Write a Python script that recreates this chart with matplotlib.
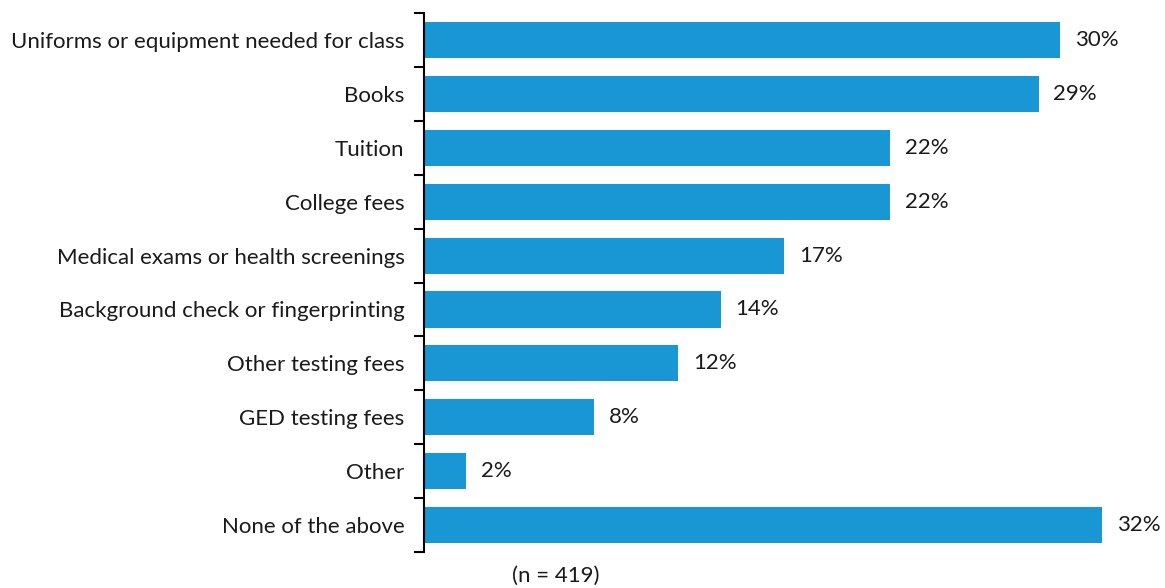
import numpy as np
import matplotlib.pyplot as plt

plt.rcParams['font.family'] = ['Lato', 'DejaVu Sans']

categories = [
    "Uniforms or equipment needed for class",
    "Books",
    "Tuition",
    "College fees",
    "Medical exams or health screenings",
    "Background check or fingerprinting",
    "Other testing fees",
    "GED testing fees",
    "Other",
    "None of the above",
]
values = [30, 29, 22, 22, 17, 14, 12, 8, 2, 32]
value_labels = ["30%", "29%", "22%", "22%", "17%", "14%", "12%", "8%", "2%", "32%"]

fig = plt.figure(figsize=(11.65, 5.88), dpi=100)
ax = fig.add_axes([0.364, 0.061, 0.582, 0.917])

y = np.arange(len(categories))
ax.barh(y, values, height=0.67, color='#1897d4')

for yi, v, lab in zip(y, values, value_labels):
    ax.text(v + 0.7, yi, lab, va='center', ha='left', fontsize=16,
            color='#1a1a1a', clip_on=False)

ax.set_ylim(len(categories) - 0.5, -0.5)
ax.set_xlim(0, 32)

ax.set_yticks(y)
ax.set_yticklabels(categories, fontsize=16, color='#1a1a1a')
ax.tick_params(axis='y', which='major', length=0, pad=14)
ax.set_yticks(np.arange(-0.5, len(categories)), minor=True)
ax.tick_params(axis='y', which='minor', length=7, width=1.5, color='black')

ax.set_xticks([])
for side in ['top', 'right', 'bottom']:
    ax.spines[side].set_visible(False)
ax.spines['left'].set_linewidth(1.5)

fig.text(0.477, 0.02, "(n = 419)", ha='center', va='center', fontsize=16,
         color='#1a1a1a')

fig.savefig('out.png', dpi=100)
